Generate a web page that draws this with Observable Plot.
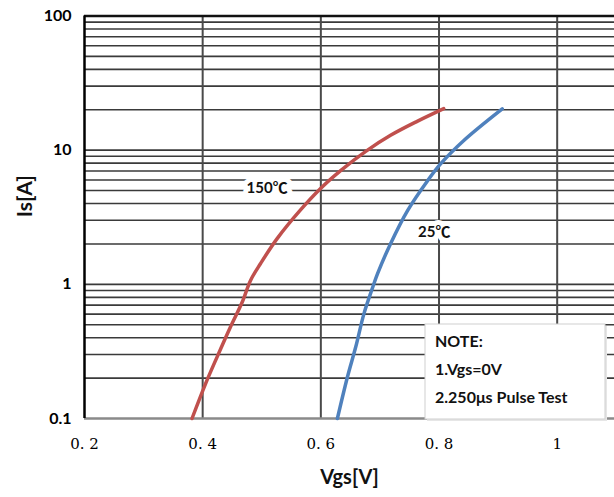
<!DOCTYPE html>
<html><head><meta charset="utf-8">
<script src="https://cdn.jsdelivr.net/npm/d3@7"></script>
<script src="https://cdn.jsdelivr.net/npm/@observablehq/plot@0.6"></script>
<style>body{margin:0;background:#fff;overflow:hidden;}</style>
</head><body><div id="chart"></div>
<script>
// 150 °C curve
const vgs150 = [0.382, 0.405, 0.4245, 0.447, 0.467, 0.481, 0.498, 0.526, 0.566, 0.600, 0.634, 0.676, 0.718, 0.763, 0.808];
const is150  = [0.100, 0.182, 0.288, 0.481, 0.738, 1.07, 1.43, 2.19, 3.60, 5.20, 7.06, 9.80, 12.9, 16.4, 20.4];
// 25 °C curve
const vgs25 = [0.628, 0.645, 0.659, 0.673, 0.687, 0.696, 0.718, 0.747, 0.781, 0.803, 0.842, 0.907];
const is25  = [0.100, 0.204, 0.341, 0.605, 0.929, 1.20, 2.01, 3.56, 5.95, 7.93, 11.8, 20.3];

const curveLabels = ["150℃", "25℃"];
const curveLabelX = [0.509, 0.792];
const curveLabelY = [5.19, 2.45];

const xTicks = [0.2, 0.4, 0.6, 0.8, 1];
const xTickLabels = ["0. 2", "0. 4", "0. 6", "0. 8", "1"];
const xGridValues = [0.4, 0.6, 0.8, 1.0];
const yTicks = [0.1, 1, 10, 100];
const yTickLabels = ["0.1", "1", "10", "100"];
const yDecades = [0.1, 1, 10];
const yMantissas = [1, 2, 3, 4, 5, 6, 7, 8, 9];

const noteLines = ["NOTE:", "1.Vgs=0V", "2.250μs Pulse Test"];
const xTitle = "Vgs[V]";
const yTitle = "Is[A]";

const d150 = vgs150.map((v, i) => ({v, i: is150[i]}));
const d25 = vgs25.map((v, i) => ({v, i: is25[i]}));
const yGrid = yDecades.flatMap(d => yMantissas.map(m => m * d)).filter(v => v > 0.1);
const labels = curveLabels.map((t, i) => ({t, x: curveLabelX[i], y: curveLabelY[i]}));

const sans = "Lato, 'Noto Sans CJK SC', sans-serif";

const chart = Plot.plot({
  width: 614,
  height: 497,
  marginLeft: 84,
  marginRight: 0,
  marginTop: 15.5,
  marginBottom: 79,
  x: {domain: [0.2, 1.097]},
  y: {type: "log", domain: [0.1, 100]},
  style: {background: "#fff", overflow: "visible"},
  marks: [
    Plot.ruleY(yGrid, {stroke: "#3a3a3a", strokeWidth: 1.6}),
    Plot.ruleX(xGridValues, {stroke: "#4a4a4a", strokeWidth: 2}),
    Plot.ruleY([100], {stroke: "#111", strokeWidth: 2.5}),
    Plot.ruleY([0.1], {stroke: "#8a8a8a", strokeWidth: 2.5}),
    Plot.ruleX([0.2], {stroke: "#000", strokeWidth: 2.5}),
    Plot.line(d150, {x: "v", y: "i", stroke: "#c0504d", strokeWidth: 3.5, curve: "catmull-rom"}),
    Plot.line(d25, {x: "v", y: "i", stroke: "#4f81bd", strokeWidth: 3.5, curve: "catmull-rom"}),
    Plot.text(labels, {x: "x", y: "y", text: "t", fill: "#111", stroke: "white", strokeWidth: 10,
      fontSize: 15, fontWeight: "bold", fontFamily: sans}),
    Plot.axisY({ticks: yTicks, tickFormat: d => yTickLabels[yTicks.indexOf(d)], tickSize: 0, tickPadding: 13,
      fontSize: 16, fontWeight: "bold", fontFamily: sans, label: null}),
    Plot.axisX({ticks: xTicks, tickFormat: d => xTickLabels[xTicks.indexOf(d)], tickSize: 0, tickPadding: 20,
      fontSize: 15, fontFamily: "'DejaVu Serif', 'Liberation Serif', serif", label: null}),
    Plot.text([xTitle], {text: d => d, frameAnchor: "bottom", dy: 65, fontSize: 20, fontWeight: "bold",
      fontFamily: sans, fill: "#111"}),
    Plot.text([yTitle], {text: d => d, frameAnchor: "left", dx: -59, rotate: -90, fontSize: 21, fontWeight: "bold",
      fontFamily: sans, fill: "#111"})
  ]
});

// NOTE box annotation
const svg = d3.select(chart);
const bx = 425, by = 324, bw = 180, bh = 95;
const g = svg.append("g").attr("text-anchor", "start");
g.append("rect").attr("x", bx + 2).attr("y", by + 2).attr("width", bw).attr("height", bh).attr("fill", "#e6e6e6");
g.append("rect").attr("x", bx).attr("y", by).attr("width", bw).attr("height", bh)
  .attr("fill", "#fff").attr("stroke", "#cfcfcf").attr("stroke-width", 1);
noteLines.forEach((t, i) => {
  g.append("text").attr("x", bx + 10).attr("y", by + 19 + i * 28)
    .attr("dominant-baseline", "middle").attr("text-anchor", "start")
    .attr("font-family", sans).attr("font-size", 16).attr("font-weight", "bold").attr("fill", "#111")
    .text(t);
});

document.getElementById("chart").appendChild(chart);
</script>
</body></html>
